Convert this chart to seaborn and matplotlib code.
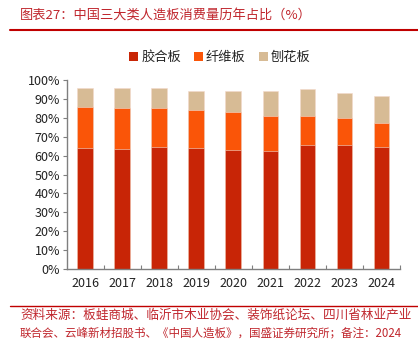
import matplotlib
matplotlib.use("Agg")
import matplotlib.pyplot as plt
import seaborn as sns
import numpy as np
import pandas as pd
from matplotlib.ticker import FixedLocator, PercentFormatter
from matplotlib.lines import Line2D
from matplotlib.patches import Patch

years = ["2016", "2017", "2018", "2019", "2020", "2021", "2022", "2023", "2024"]
plywood = [63.9, 63.3, 64.5, 64.0, 63.0, 62.4, 65.6, 65.6, 64.4]
fiberboard = [21.8, 22.0, 20.8, 20.1, 20.1, 18.6, 15.4, 14.3, 13.0]
particleboard = [10.4, 10.5, 10.3, 10.4, 10.9, 13.2, 14.4, 13.4, 14.1]
series_names = ["胶合板", "纤维板", "刨花板"]
colors = ["#C82506", "#FA5508", "#D7BB95"]
title = "图表27：中国三大类人造板消费量历年占比（%）"
source_lines = ["资料来源：板蛙商城、临沂市木业协会、装饰纸论坛、四川省林业产业",
                "联合会、云峰新材招股书、《中国人造板》，国盛证券研究所；备注：2024"]

sns.set_style("white")
plt.rcParams['font.family'] = ['Noto Sans CJK SC', 'DejaVu Sans']

df = pd.DataFrame({"year": years, "p": plywood, "f": fiberboard, "c": particleboard})
df["top1"] = df["p"]
df["top2"] = df["p"] + df["f"]
df["top3"] = df["top2"] + df["c"]

fig = plt.figure(figsize=(4.18, 3.44), dpi=100)
ax = fig.add_axes([0.160, 0.218, 0.797, 0.549])

for col, color in zip(["top3", "top2", "top1"], colors[::-1]):
    sns.barplot(data=df, x="year", y=col, color=color, width=0.43, ax=ax,
                saturation=1, edgecolor="#F3D9CC", linewidth=0.4)

ax.set_xlim(-0.5, len(years) - 0.5)
ax.set_ylim(0, 100)
ax.set_yticks(np.arange(0, 101, 10))
ax.yaxis.set_major_formatter(PercentFormatter(decimals=0))
ax.set_xlabel("")
ax.set_ylabel("")

for s in ["top", "right"]:
    ax.spines[s].set_visible(False)
for s in ["left", "bottom"]:
    ax.spines[s].set_color("#7f7f7f")
    ax.spines[s].set_linewidth(1.0)

ax.tick_params(axis="y", direction="out", length=3, width=0.8, color="#7f7f7f",
               labelsize=9, labelcolor="#222222", pad=2, left=True)
ax.tick_params(axis="x", which="major", length=0, labelsize=9, labelcolor="#222222", pad=6)
ax.xaxis.set_minor_locator(FixedLocator(np.arange(0.5, len(years), 1.0)))
ax.tick_params(axis="x", which="minor", direction="in", length=3, width=0.8,
               color="#7f7f7f", bottom=True)

handles = [Patch(facecolor=c, edgecolor="none") for c in colors]
fig.legend(handles, series_names, loc="center", bbox_to_anchor=(0.526, 0.833),
           ncol=3, frameon=False, fontsize=9.5, handlelength=0.7, handleheight=0.7,
           handletextpad=0.2, columnspacing=1.0)

red = "#C0262D"
fig.text(20 / 418, 1 - 15 / 344, title, fontsize=9.5, color=red, va="center", ha="left")
fig.add_artist(Line2D([10 / 418, 1.0], [1 - 30 / 344] * 2, color="#C00000", lw=1.5))
fig.add_artist(Line2D([10 / 418, 1.0], [1 - 306 / 344] * 2, color="#C00000", lw=1.0))
fig.text(20 / 418, 1 - 315 / 344, source_lines[0], fontsize=9.1, color=red, va="center", ha="left")
fig.text(20 / 418, 1 - 333 / 344, source_lines[1], fontsize=8.3, color=red, va="center", ha="left")

fig.savefig("out.png", dpi=100)
